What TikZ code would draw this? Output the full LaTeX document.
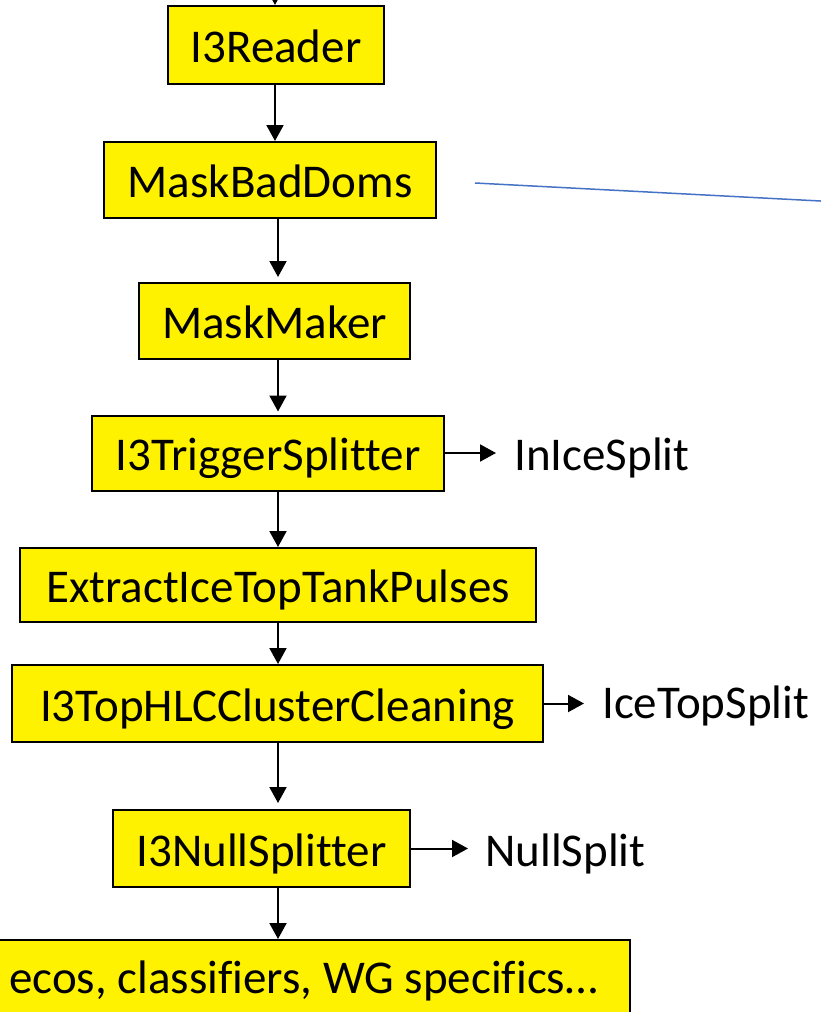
\documentclass[tikz,border=0pt]{standalone}
\usepackage{fontspec}
\setmainfont{Carlito}[Ligatures=CommonOff]
\usetikzlibrary{arrows.meta}
\begin{document}
\begin{tikzpicture}[x=1pt,y=-1pt,
  stage/.style={draw=black, line width=2pt, fill=yellow, inner sep=0pt,
    font=\fontsize{47}{56}\selectfont, text=black,
    text height=39pt, text depth=4pt},
  outlbl/.style={inner sep=0pt, anchor=base west,
    font=\fontsize{47}{56}\selectfont, text=black},
  flow/.style={draw=black, line width=2pt, -{Triangle[length=16pt,width=17pt]}},
  link/.style={draw={rgb,255:red,68;green,114;blue,196}, line width=1.5pt},
]
\useasboundingbox (0,0) rectangle (821,1012);
\clip (0,0) rectangle (821,1012);

% processing chain
\node[stage, minimum width=216pt, minimum height=78pt] (reader)  at (276,45)    {I3Reader};
\node[stage, minimum width=332pt, minimum height=76pt] (baddoms) at (270,180)   {MaskBadDoms};
\node[stage, minimum width=271pt, minimum height=76pt] (maker)   at (274.5,321) {MaskMaker};
\node[stage, minimum width=352pt, minimum height=75pt] (trig)    at (268,453)   {I3TriggerSplitter};
\node[stage, minimum width=516pt, minimum height=74pt] (tank)    at (278,585)   {ExtractIceTopTankPulses};
\node[stage, minimum width=531pt, minimum height=77pt] (hlc)     at (277.5,703.5) {I3TopHLCClusterCleaning};
\node[stage, minimum width=297pt, minimum height=77pt] (nullsp)  at (261.5,848.5) {I3NullSplitter};
\node[stage, minimum width=680pt, minimum height=110pt] (rest)   at (290,995)   {};
\node[inner sep=0pt, anchor=base east, font=\fontsize{47}{56}\selectfont]
  (restlbl) at (598,993) {ecos, classifiers, WG specifics…};

% sub-event streams
\node[outlbl] (inice)  at (514,470) {InIceSplit};
\node[outlbl] (icetop) at (602,718) {IceTopSplit};
\node[outlbl] (nulls)  at (485,866) {NullSplit};

% vertical flow
\coordinate (src) at (275,-20);
\coordinate (colA) at (275,0);
\coordinate (colB) at (278,0);
\draw[flow] (src) -- (reader.north -| src);
\draw[flow] (reader.south -| colA) -- (baddoms.north -| colA);
\draw[flow, shorten >=5pt] (baddoms.south -| colB) -- (maker.north -| colB);
\draw[flow, shorten >=3pt] (maker.south -| colB) -- (trig.north -| colB);
\draw[flow] (trig.south -| colB) -- (tank.north -| colB);
\draw[flow] (tank.south -| colB) -- (hlc.north -| colB);
\draw[flow, shorten >=6pt] (hlc.south -| colB) -- (nullsp.north -| colB);
\draw[flow] (nullsp.south -| colB) -- (rest.north -| colB);

% side outputs
\draw[flow, shorten >=18pt] (trig.east) -- (trig.east -| inice.west);
\draw[flow, shorten >=18pt] (hlc.east) -- (hlc.east -| icetop.west);
\draw[flow, shorten >=17pt] (nullsp.east) -- (nullsp.east -| nulls.west);

% pointer line
\coordinate (p1) at (475,183);
\coordinate (p2) at (830,201.5);
\draw[link] (p1) -- (p2);
\end{tikzpicture}
\end{document}
